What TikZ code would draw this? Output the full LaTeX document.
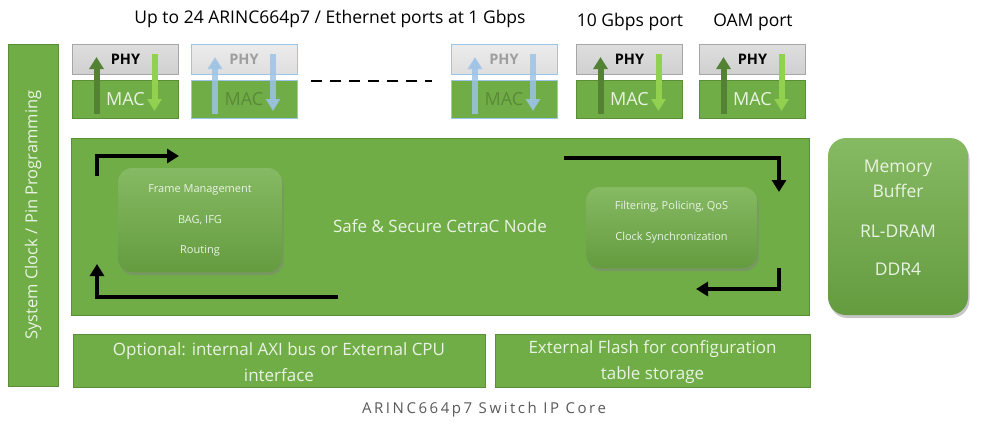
\documentclass[tikz,border=0pt]{standalone}
\usepackage{fontspec}
\setmainfont{Open Sans}
\usetikzlibrary{arrows.meta,shadows}
\definecolor{grn}{HTML}{70AD47}
\definecolor{grnb}{HTML}{5A8F38}
\definecolor{txtw}{HTML}{EAF3E3}
\definecolor{upar}{HTML}{548235}
\definecolor{dnar}{HTML}{92D050}
\definecolor{fadeb}{HTML}{9DC3E6}
\definecolor{phyg}{HTML}{D0D0D0}
\definecolor{phyb}{HTML}{A6A6A6}
\definecolor{capg}{HTML}{595959}
\tikzset{
  gbox/.style={draw=grnb, line width=1pt, fill=grn, text=txtw, align=center, inner sep=0pt},
  rbox/.style={rounded corners=14pt, top color=grn!85!white, bottom color=grn!90!black, draw=none,
     text=txtw, align=center, inner sep=0pt, drop shadow={opacity=0.45, shadow xshift=1.5pt, shadow yshift=-3pt}},
  intext/.style={text=txtw, align=center, inner sep=0pt},
  phybox/.style={draw=phyb, line width=0.8pt, top color=phyg!70!white, bottom color=phyg, minimum width=106pt, minimum height=30pt, inner sep=0pt, font=\fontsize{14.5}{16}\selectfont\bfseries},
  macbox/.style={gbox, minimum width=106pt, minimum height=38pt, font=\fontsize{18}{20}\selectfont},
  fphy/.style={phybox, draw=fadeb, top color=phyg!40!white, bottom color=phyg!70!white, text=black!38},
  fmac/.style={macbox, draw=fadeb, text=grn!80!black},
  bigarrow/.style={line width=4pt, -{Triangle[width=14pt,length=12pt]}},
  uparrow/.style={line width=6pt, upar, -{Triangle[width=14pt,length=12pt]}},
  dnarrow/.style={line width=6pt, dnar, -{Triangle[width=14pt,length=12pt]}},
  fuparrow/.style={line width=6pt, fadeb, opacity=0.85, -{Triangle[width=14pt,length=12pt]}},
  toplabel/.style={font=\fontsize{17.5}{20}\selectfont, text=black}
}
\begin{document}
\begin{tikzpicture}[x=1pt,y=-1pt]
\useasboundingbox (0,0) rectangle (982,434);

% top labels
\node[toplabel] (lab1) at (330,18.5) {Up to 24 ARINC664p7 / Ethernet ports at 1 Gbps};
\node[toplabel] (lab2) at (630,22) {10 Gbps port};
\node[toplabel] (lab3) at (753,22) {OAM port};

% system clock box
\node[gbox, rotate=90, minimum width=342pt, minimum height=50pt, font=\fontsize{16.5}{19}\selectfont] (sys) at (33,215) {System Clock / Pin Programming};

% ports
\foreach \n/\cx/\st in {1/125.5/n, 2/244/f, 3/504/f, 4/629.5/n, 5/752.5/n}{
  \if n\st
    \node[phybox] (phy\n) at (\cx,59) {\raisebox{-3pt}{PHY}};
    \node[macbox] (mac\n) at (\cx,99) {\raisebox{-2pt}{MAC}};
  \else
    \node[fphy] (phy\n) at (\cx,59) {\raisebox{-3pt}{PHY}};
    \node[fmac] (mac\n) at (\cx,99) {\raisebox{-2pt}{MAC}};
  \fi
  \coordinate (ua\n) at (\cx-29,114);
  \coordinate (ub\n) at (\cx-29,57);
  \coordinate (da\n) at (\cx+29,54);
  \coordinate (db\n) at (\cx+29,111);
  \if n\st
    \draw[uparrow] (ua\n) -- (ub\n);
    \draw[dnarrow] (da\n) -- (db\n);
  \else
    \draw[fuparrow] (ua\n) -- (ub\n);
    \draw[fuparrow] (da\n) -- (db\n);
  \fi
}

% dashed line
\coordinate (d1) at (311,81);
\coordinate (d2) at (432,81);
\draw[line width=2.5pt, dash pattern=on 11pt off 8pt] (d1) -- (d2);

% big node
\node[gbox, minimum width=738pt, minimum height=177pt, font=\fontsize{17}{20}\selectfont] (core) at (440,226.5) {Safe \& Secure CetraC Node};

\node[rbox, minimum width=164pt, minimum height=104pt] (frame) at (200,220) {};
\node[intext, font=\fontsize{11}{30.5}\selectfont] (framet) at (200,220.5)
  {Frame Management\\BAG, IFG\\Routing};
\node[rbox, minimum width=171pt, minimum height=81pt] (filt) at (671.5,227.5) {};
\node[intext, font=\fontsize{11}{31}\selectfont] (filtt) at (671.5,222.5)
  {Filtering, Policing, QoS\\Clock Synchronization};

% memory
\node[rbox, rounded corners=18pt, minimum width=140pt, minimum height=177pt] (mem) at (898,226.5) {};
\node[intext, font=\fontsize{17.5}{25}\selectfont] (memt) at (898,218)
  {Memory\\Buffer\\[15pt]RL-DRAM\\[13pt]DDR4};

% bottom boxes
\node[gbox, minimum width=412pt, minimum height=53pt] (axi) at (279,360.5) {};
\node[intext, font=\fontsize{17}{26}\selectfont] (axit) at (279,362)
  {Optional: internal AXI bus or External CPU\\interface};
\node[gbox, minimum width=315pt, minimum height=53pt] (flash) at (652.5,360.5) {};
\node[intext, font=\fontsize{17}{26}\selectfont] (flasht) at (652.5,362)
  {External Flash for configuration\\table storage};

% caption
\node[font=\fontsize{15}{17}\selectfont\addfontfeatures{LetterSpace=17}, text=capg] (cap) at (484,410) {ARINC664p7 Switch IP Core};

% black flow arrows
\coordinate (a1s) at (97,176);
\coordinate (a1m) at (97,156);
\coordinate (a1e) at (179,156);
\draw[bigarrow] (a1s) -- (a1m) -- (a1e);

\coordinate (a2s) at (338,297);
\coordinate (a2m) at (97,297);
\coordinate (a2e) at (97,264);
\draw[bigarrow] (a2s) -- (a2m) -- (a2e);

\coordinate (a3s) at (564,158);
\coordinate (a3m) at (779,158);
\coordinate (a3e) at (779,192);
\draw[bigarrow] (a3s) -- (a3m) -- (a3e);

\coordinate (a4s) at (779,268);
\coordinate (a4m) at (779,289);
\coordinate (a4e) at (696,289);
\draw[bigarrow] (a4s) -- (a4m) -- (a4e);
\end{tikzpicture}
\end{document}
